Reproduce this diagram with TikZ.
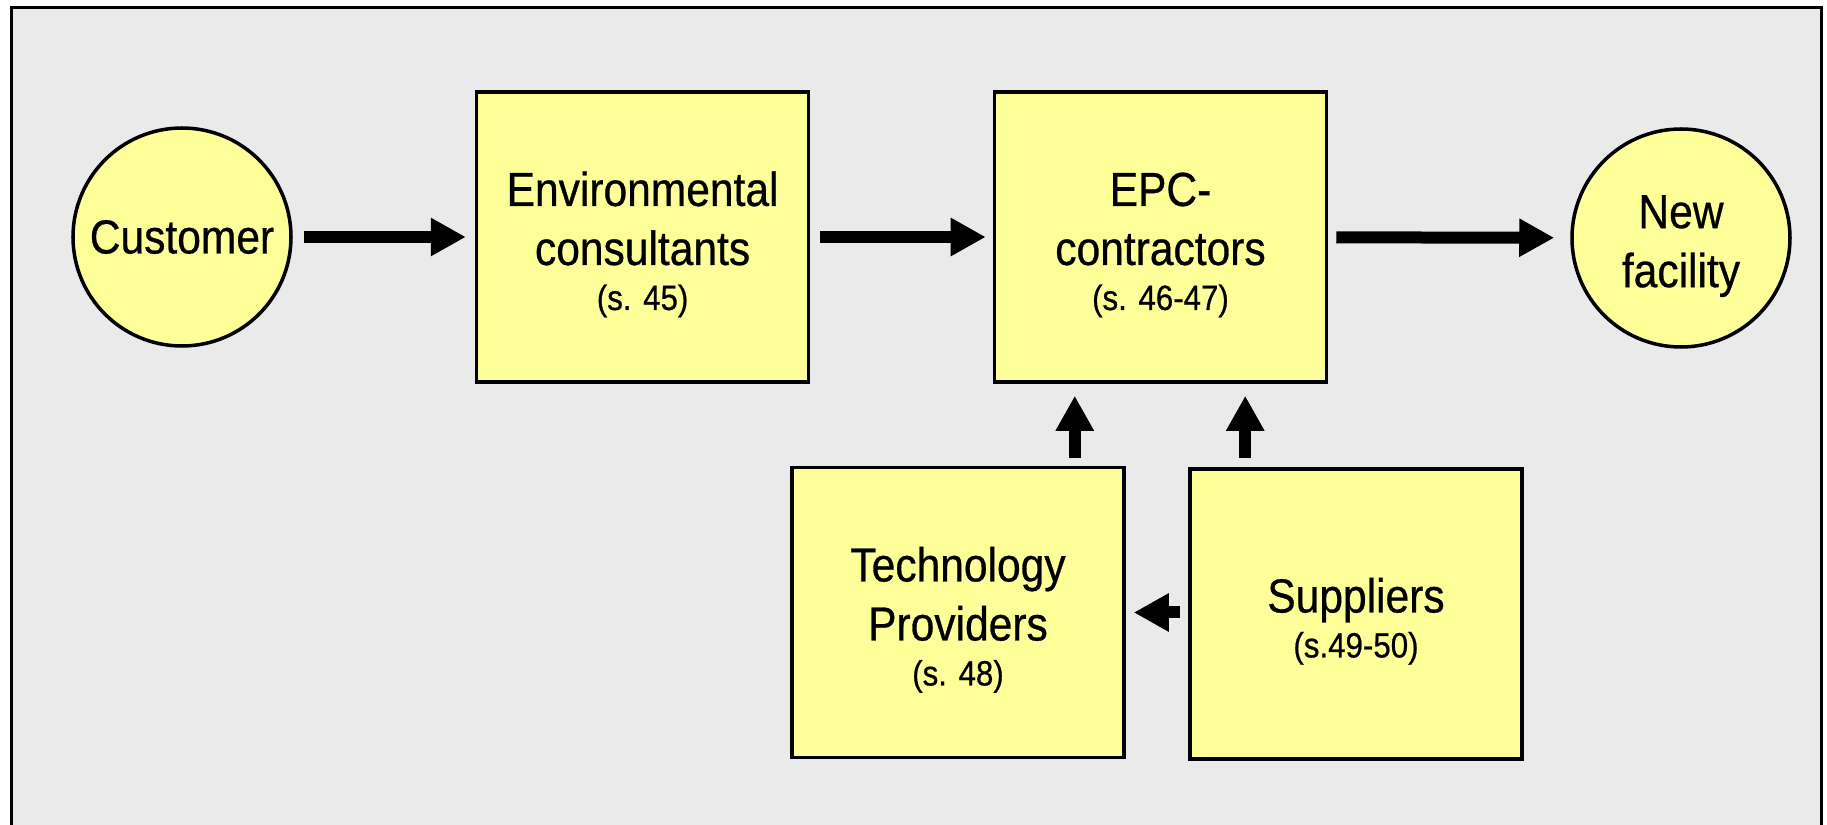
\documentclass[tikz,border=0pt]{standalone}
\usepackage{fontspec}
\setmainfont{Liberation Sans}[FakeStretch=0.89, FakeBold=0.6]
\usetikzlibrary{arrows.meta}
\definecolor{panel}{HTML}{EAEAEA}
\definecolor{pale}{HTML}{FFFF99}
\newcommand{\pg}[1]{\\[-4pt]{\fontsize{10}{11}\selectfont #1}}
\newcommand{\topgap}{\rule{0pt}{14pt}}
\begin{document}
\begin{tikzpicture}[x=0.1mm, y=-0.1mm]

\tikzstyle{actor}=[draw, circle, fill=pale, line width=1pt, minimum size=21.8mm, inner sep=0pt, align=center, font=\fontsize{13.6}{16.8}\selectfont]
\tikzstyle{party}=[draw, fill=pale, line width=1pt, minimum width=33.2mm, minimum height=29mm, align=center, font=\fontsize{13.6}{16.8}\selectfont]
\tikzstyle{flow}=[-{Triangle[length=3.5mm, width=3.6mm]}, line width=1.2mm]

% --- page and panel ---
\clip (0,0) rectangle (1827,825);
\draw[line width=1pt, fill=panel] (11.5,7.5) rectangle (1821.5,840);

% --- top row ---
\node[actor] (cust) at (182,237) {Customer};
\node[party] (env) at (642.6,237) {\topgap Environmental\\consultants\pg{(s. 45)}};
\node[party] (epc) at (1160.5,237) {\topgap EPC-\\contractors\pg{(s. 46-47)}};
\node[actor] (fac) at (1681,238) {\topgap New\\facility};

% --- bottom row ---
\node[party] (tech) at (958,612.5) {\topgap Technology\\Providers\pg{(s. 48)}};
\node[party] (sup) at (1356,614) {\topgap Suppliers\pg{(s.49-50)}};

% --- arrows ---
\draw[flow, shorten <=1.1mm, shorten >=0.9mm] (cust) -- (env);
\draw[flow, shorten <=0.95mm, shorten >=0.7mm] (env) -- (epc);
\draw[flow, shorten <=0.8mm, shorten >=1.6mm] (epc) -- (fac);

\coordinate (techup) at ([xshift=-5.1mm]tech.north east);
\coordinate (supup) at ([xshift=5.7mm]sup.north west);
\draw[flow, shorten <=0.8mm, shorten >=1.2mm] (techup) -- (techup |- epc.south);
\draw[flow, shorten <=0.9mm, shorten >=1.2mm] (supup) -- (supup |- epc.south);
\draw[flow, shorten <=0.8mm, shorten >=0.8mm] (sup.west |- tech.east) -- (tech.east);

\end{tikzpicture}
\end{document}
